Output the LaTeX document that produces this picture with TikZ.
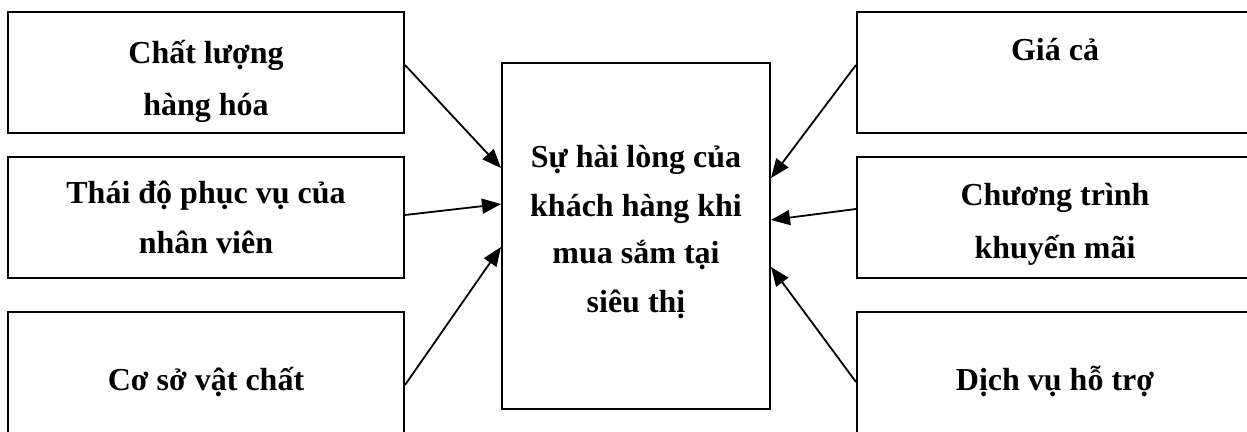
\documentclass[tikz,border=0pt]{standalone}
\usepackage{fontspec}
\setmainfont{Liberation Serif}
\usetikzlibrary{arrows.meta}
\begin{document}
\begin{tikzpicture}[x=1pt,y=-1pt,
  box/.style={draw,line width=2pt,minimum width=396pt,minimum height=121pt,inner sep=0pt},
  cbox/.style={draw,line width=2pt,minimum width=268pt,minimum height=346pt,inner sep=0pt},
  txt/.style={anchor=base,inner sep=0pt,font=\fontsize{32}{38}\selectfont\bfseries},
  arr/.style={line width=1.8pt,-{Triangle[length=19pt,width=15pt]}}]
\useasboundingbox (0,0) rectangle (1247,431);
\clip (0,0) rectangle (1247,431);
% boxes
\node[box] (L1) at (206,72.5) {};
\node[box] (L2) at (206,217.5) {};
\node[box] (L3) at (206,372.5) {};
\node[box] (R1) at (1055,72.5) {};
\node[box] (R2) at (1055,217.5) {};
\node[box] (R3) at (1055,372.5) {};
\node[cbox] (C) at (636,236) {};
% texts
\node[txt] (l1a) at (206,63) {Chất lượng};
\node[txt] (l1b) at (206,115) {hàng hóa};
\node[txt] (l2a) at (206,203) {Thái độ phục vụ của};
\node[txt] (l2b) at (206,253) {nhân viên};
\node[txt] (l3a) at (206,390) {Cơ sở vật chất};
\node[txt] (r1a) at (1055,60) {Giá cả};
\node[txt] (r2a) at (1055,205) {Chương trình};
\node[txt] (r2b) at (1055,258) {khuyến mãi};
\node[txt] (r3a) at (1055,390) {Dịch vụ hỗ trợ};
\node[txt] (c1) at (636,167) {Sự hài lòng của};
\node[txt] (c2) at (636,216) {khách hàng khi};
\node[txt] (c3) at (636,263) {mua sắm tại};
\node[txt] (c4) at (636,312) {siêu thị};
% arrows
\draw[arr] ([yshift=7.5pt]L1.east) -- ([yshift=68pt]C.west);
\draw[arr] ([yshift=2.5pt]L2.east) -- ([yshift=32pt]C.west);
\draw[arr] ([yshift=-12.5pt]L3.east) -- ([yshift=-11pt]C.west);
\draw[arr] ([yshift=7.5pt]R1.west) -- ([yshift=58pt]C.east);
\draw[arr] ([yshift=8.5pt]R2.west) -- ([yshift=16pt]C.east);
\draw[arr] ([yshift=-9.5pt]R3.west) -- ([yshift=-31pt]C.east);
\end{tikzpicture}
\end{document}
